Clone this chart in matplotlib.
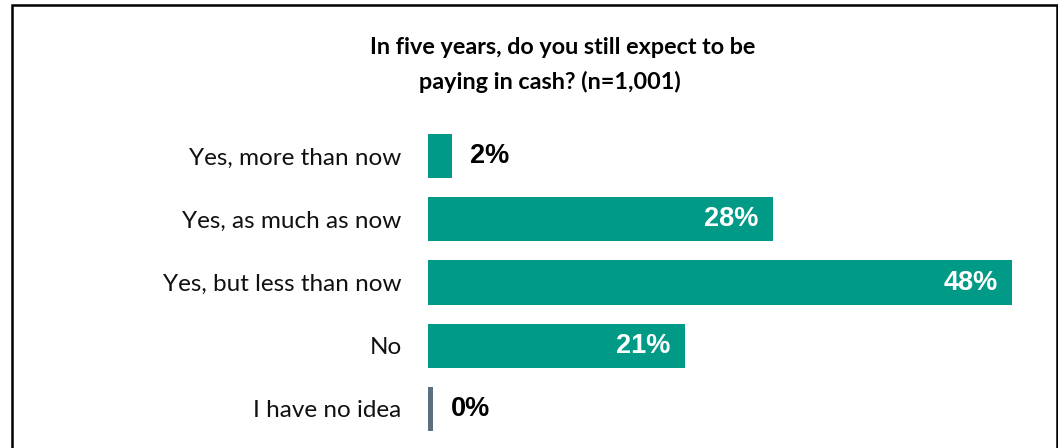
import matplotlib
matplotlib.use('Agg')
import matplotlib.pyplot as plt
from matplotlib.patches import Rectangle

categories = ["Yes, more than now", "Yes, as much as now", "Yes, but less than now",
              "No", "I have no idea"]
values = [2.0, 28.3, 47.9, 21.1, 0.4]
labels = ["2%", "28%", "48%", "21%", "0%"]
inside = [False, True, True, True, False]

teal = "#009A86"
grey = "#5B6F80"
colors = [teal, teal, teal, teal, grey]

W, H = 1058, 448
fig = plt.figure(figsize=(W/100., H/100.), dpi=100)

# border around the whole chart
fig.patches.append(Rectangle((11.5/W, -0.05), (1057-11.5)/W, (H-5)/H + 0.05,
                             transform=fig.transFigure, fill=False,
                             edgecolor='black', linewidth=1.8))

fig.text(563/W, 1 - 47/H, "In five years, do you still expect to be",
         ha='center', va='center', fontsize=16.8, fontweight='bold', family='Lato')
fig.text(550/W, 1 - 82/H, "paying in cash? (n=1,001)",
         ha='center', va='center', fontsize=16.8, fontweight='bold', family='Lato')

ax = fig.add_axes([428/W, (H-440.5)/H, 610/W, 316/H])
ypos = range(len(categories))
ax.barh(ypos, values, height=0.7, color=colors)
ax.set_xlim(0, 50)
ax.set_ylim(4.5, -0.5)
ax.set_yticks(list(ypos))
ax.set_yticklabels(categories, fontsize=17.5, family='Lato', color='#111111')
ax.tick_params(axis='y', length=0, pad=19)
ax.set_xticks([])
for s in ax.spines.values():
    s.set_visible(False)

for i, v in enumerate(values):
    if inside[i]:
        ax.annotate(labels[i], (v, i), xytext=(-15, 0), textcoords='offset pixels',
                    ha='right', va='center', color='white', fontsize=19.5,
                    fontweight='bold', family='Liberation Sans')
    else:
        ax.annotate(labels[i], (v, i), xytext=(18, 0), textcoords='offset pixels',
                    ha='left', va='center', color='black', fontsize=19.5,
                    fontweight='bold', family='Liberation Sans')

plt.savefig('out.png', dpi=100)
